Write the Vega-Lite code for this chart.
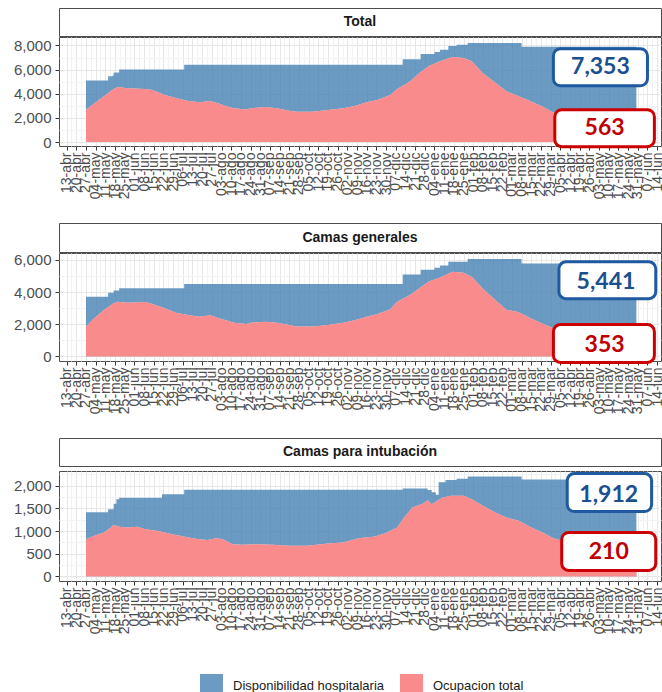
{
  "$schema": "https://vega.github.io/schema/vega-lite/v6.json",
  "padding": {"left": 12, "top": 7, "right": 2, "bottom": 0},
  "background": "white",
  "spacing": 22,
  "config": {
    "view": {"stroke": "#4d4d4d", "strokeWidth": 1},
    "axis": {"labelFont": "Liberation Sans", "labelColor": "#4d4d4d", "tickColor": "#333333", "tickSize": 4, "domain": false},
    "axisY": {"labelOverlap": false},
    "legend": {"orient": "none", "legendX": 141, "legendY": 666, "direction": "horizontal", "symbolType": "square", "symbolSize": 529, "symbolStrokeWidth": 0, "symbolOpacity": 0.8, "labelFont": "Liberation Sans", "labelFontSize": 13, "labelColor": "#1a1a1a", "labelOffset": 10, "columnPadding": 15, "title": null}
  },
  "datasets": {
    "cap": [
      {"p": "Total", "d": "2020-04-27", "v": 5100},
      {"p": "Total", "d": "2020-05-13", "v": 5450},
      {"p": "Total", "d": "2020-05-16", "v": 5500},
      {"p": "Total", "d": "2020-05-17", "v": 5750},
      {"p": "Total", "d": "2020-05-21", "v": 6000},
      {"p": "Total", "d": "2020-07-07", "v": 6400},
      {"p": "Total", "d": "2020-12-12", "v": 6850},
      {"p": "Total", "d": "2020-12-25", "v": 7300},
      {"p": "Total", "d": "2021-01-04", "v": 7450},
      {"p": "Total", "d": "2021-01-08", "v": 7650},
      {"p": "Total", "d": "2021-01-14", "v": 7950},
      {"p": "Total", "d": "2021-01-20", "v": 8050},
      {"p": "Total", "d": "2021-01-28", "v": 8200},
      {"p": "Total", "d": "2021-03-08", "v": 7900},
      {"p": "Total", "d": "2021-05-30", "v": 7900},
      {"p": "Camas generales", "d": "2020-04-27", "v": 3700},
      {"p": "Camas generales", "d": "2020-05-13", "v": 3950},
      {"p": "Camas generales", "d": "2020-05-17", "v": 4100},
      {"p": "Camas generales", "d": "2020-05-21", "v": 4230},
      {"p": "Camas generales", "d": "2020-07-07", "v": 4500},
      {"p": "Camas generales", "d": "2020-12-12", "v": 5080},
      {"p": "Camas generales", "d": "2020-12-25", "v": 5380},
      {"p": "Camas generales", "d": "2021-01-04", "v": 5500},
      {"p": "Camas generales", "d": "2021-01-08", "v": 5650},
      {"p": "Camas generales", "d": "2021-01-14", "v": 5870},
      {"p": "Camas generales", "d": "2021-01-28", "v": 6050},
      {"p": "Camas generales", "d": "2021-03-08", "v": 5770},
      {"p": "Camas generales", "d": "2021-05-30", "v": 5770},
      {"p": "Camas para intubación", "d": "2020-04-27", "v": 1410},
      {"p": "Camas para intubación", "d": "2020-05-13", "v": 1480},
      {"p": "Camas para intubación", "d": "2020-05-17", "v": 1600},
      {"p": "Camas para intubación", "d": "2020-05-19", "v": 1700},
      {"p": "Camas para intubación", "d": "2020-05-21", "v": 1730},
      {"p": "Camas para intubación", "d": "2020-06-21", "v": 1810},
      {"p": "Camas para intubación", "d": "2020-07-07", "v": 1905},
      {"p": "Camas para intubación", "d": "2020-12-12", "v": 1935},
      {"p": "Camas para intubación", "d": "2020-12-30", "v": 1900},
      {"p": "Camas para intubación", "d": "2021-01-02", "v": 1850},
      {"p": "Camas para intubación", "d": "2021-01-05", "v": 1800},
      {"p": "Camas para intubación", "d": "2021-01-07", "v": 2070},
      {"p": "Camas para intubación", "d": "2021-01-12", "v": 2120},
      {"p": "Camas para intubación", "d": "2021-01-20", "v": 2150},
      {"p": "Camas para intubación", "d": "2021-01-28", "v": 2200},
      {"p": "Camas para intubación", "d": "2021-03-08", "v": 2135},
      {"p": "Camas para intubación", "d": "2021-05-30", "v": 2135}
    ],
    "occ": [
      {"p": "Total", "d": "2020-04-27", "v": 2670},
      {"p": "Total", "d": "2020-05-03", "v": 3200},
      {"p": "Total", "d": "2020-05-10", "v": 3800},
      {"p": "Total", "d": "2020-05-17", "v": 4400},
      {"p": "Total", "d": "2020-05-20", "v": 4550},
      {"p": "Total", "d": "2020-05-27", "v": 4450},
      {"p": "Total", "d": "2020-06-09", "v": 4400},
      {"p": "Total", "d": "2020-06-14", "v": 4300},
      {"p": "Total", "d": "2020-06-23", "v": 3900},
      {"p": "Total", "d": "2020-07-01", "v": 3650},
      {"p": "Total", "d": "2020-07-10", "v": 3400},
      {"p": "Total", "d": "2020-07-18", "v": 3300},
      {"p": "Total", "d": "2020-07-26", "v": 3400},
      {"p": "Total", "d": "2020-08-01", "v": 3200},
      {"p": "Total", "d": "2020-08-07", "v": 2950},
      {"p": "Total", "d": "2020-08-12", "v": 2800},
      {"p": "Total", "d": "2020-08-21", "v": 2700},
      {"p": "Total", "d": "2020-08-24", "v": 2800},
      {"p": "Total", "d": "2020-09-04", "v": 2900},
      {"p": "Total", "d": "2020-09-12", "v": 2800},
      {"p": "Total", "d": "2020-09-21", "v": 2600},
      {"p": "Total", "d": "2020-09-26", "v": 2500},
      {"p": "Total", "d": "2020-10-08", "v": 2500},
      {"p": "Total", "d": "2020-10-19", "v": 2650},
      {"p": "Total", "d": "2020-10-30", "v": 2800},
      {"p": "Total", "d": "2020-11-08", "v": 3000},
      {"p": "Total", "d": "2020-11-16", "v": 3300},
      {"p": "Total", "d": "2020-11-24", "v": 3500},
      {"p": "Total", "d": "2020-12-03", "v": 3900},
      {"p": "Total", "d": "2020-12-08", "v": 4400},
      {"p": "Total", "d": "2020-12-17", "v": 5000},
      {"p": "Total", "d": "2020-12-25", "v": 5800},
      {"p": "Total", "d": "2020-12-31", "v": 6300},
      {"p": "Total", "d": "2021-01-08", "v": 6700},
      {"p": "Total", "d": "2021-01-17", "v": 7050},
      {"p": "Total", "d": "2021-01-25", "v": 6950},
      {"p": "Total", "d": "2021-01-31", "v": 6700},
      {"p": "Total", "d": "2021-02-08", "v": 5700},
      {"p": "Total", "d": "2021-02-17", "v": 4900},
      {"p": "Total", "d": "2021-02-25", "v": 4200},
      {"p": "Total", "d": "2021-03-06", "v": 3800},
      {"p": "Total", "d": "2021-03-14", "v": 3400},
      {"p": "Total", "d": "2021-03-23", "v": 2950},
      {"p": "Total", "d": "2021-03-31", "v": 2450},
      {"p": "Total", "d": "2021-04-09", "v": 2100},
      {"p": "Total", "d": "2021-04-17", "v": 1850},
      {"p": "Total", "d": "2021-04-25", "v": 1650},
      {"p": "Total", "d": "2021-05-04", "v": 1500},
      {"p": "Total", "d": "2021-05-12", "v": 1400},
      {"p": "Total", "d": "2021-05-21", "v": 1300},
      {"p": "Total", "d": "2021-05-30", "v": 1250},
      {"p": "Camas generales", "d": "2020-04-27", "v": 1860},
      {"p": "Camas generales", "d": "2020-05-03", "v": 2370},
      {"p": "Camas generales", "d": "2020-05-10", "v": 2890},
      {"p": "Camas generales", "d": "2020-05-17", "v": 3300},
      {"p": "Camas generales", "d": "2020-05-20", "v": 3400},
      {"p": "Camas generales", "d": "2020-05-27", "v": 3340},
      {"p": "Camas generales", "d": "2020-06-09", "v": 3380},
      {"p": "Camas generales", "d": "2020-06-14", "v": 3260},
      {"p": "Camas generales", "d": "2020-06-23", "v": 3000},
      {"p": "Camas generales", "d": "2020-07-01", "v": 2720},
      {"p": "Camas generales", "d": "2020-07-10", "v": 2580},
      {"p": "Camas generales", "d": "2020-07-18", "v": 2470},
      {"p": "Camas generales", "d": "2020-07-26", "v": 2560},
      {"p": "Camas generales", "d": "2020-08-01", "v": 2370},
      {"p": "Camas generales", "d": "2020-08-07", "v": 2230},
      {"p": "Camas generales", "d": "2020-08-12", "v": 2100},
      {"p": "Camas generales", "d": "2020-08-21", "v": 2020},
      {"p": "Camas generales", "d": "2020-08-24", "v": 2100},
      {"p": "Camas generales", "d": "2020-09-04", "v": 2160},
      {"p": "Camas generales", "d": "2020-09-12", "v": 2100},
      {"p": "Camas generales", "d": "2020-09-21", "v": 1960},
      {"p": "Camas generales", "d": "2020-09-26", "v": 1860},
      {"p": "Camas generales", "d": "2020-10-08", "v": 1860},
      {"p": "Camas generales", "d": "2020-10-19", "v": 1960},
      {"p": "Camas generales", "d": "2020-10-30", "v": 2100},
      {"p": "Camas generales", "d": "2020-11-08", "v": 2270},
      {"p": "Camas generales", "d": "2020-11-16", "v": 2470},
      {"p": "Camas generales", "d": "2020-11-24", "v": 2640},
      {"p": "Camas generales", "d": "2020-12-03", "v": 2930},
      {"p": "Camas generales", "d": "2020-12-08", "v": 3400},
      {"p": "Camas generales", "d": "2020-12-17", "v": 3800},
      {"p": "Camas generales", "d": "2020-12-25", "v": 4300},
      {"p": "Camas generales", "d": "2020-12-31", "v": 4650},
      {"p": "Camas generales", "d": "2021-01-08", "v": 4900},
      {"p": "Camas generales", "d": "2021-01-17", "v": 5260},
      {"p": "Camas generales", "d": "2021-01-25", "v": 5200},
      {"p": "Camas generales", "d": "2021-01-31", "v": 4950},
      {"p": "Camas generales", "d": "2021-02-08", "v": 4200},
      {"p": "Camas generales", "d": "2021-02-17", "v": 3500},
      {"p": "Camas generales", "d": "2021-02-25", "v": 2900},
      {"p": "Camas generales", "d": "2021-03-06", "v": 2750},
      {"p": "Camas generales", "d": "2021-03-14", "v": 2380},
      {"p": "Camas generales", "d": "2021-03-23", "v": 2050},
      {"p": "Camas generales", "d": "2021-03-31", "v": 1750},
      {"p": "Camas generales", "d": "2021-04-09", "v": 1500},
      {"p": "Camas generales", "d": "2021-04-17", "v": 1300},
      {"p": "Camas generales", "d": "2021-04-25", "v": 1150},
      {"p": "Camas generales", "d": "2021-05-04", "v": 1050},
      {"p": "Camas generales", "d": "2021-05-12", "v": 980},
      {"p": "Camas generales", "d": "2021-05-21", "v": 920},
      {"p": "Camas generales", "d": "2021-05-30", "v": 880},
      {"p": "Camas para intubación", "d": "2020-04-27", "v": 820},
      {"p": "Camas para intubación", "d": "2020-05-03", "v": 894},
      {"p": "Camas para intubación", "d": "2020-05-10", "v": 967},
      {"p": "Camas para intubación", "d": "2020-05-15", "v": 1077},
      {"p": "Camas para intubación", "d": "2020-05-17", "v": 1135},
      {"p": "Camas para intubación", "d": "2020-05-21", "v": 1091},
      {"p": "Camas para intubación", "d": "2020-05-27", "v": 1077},
      {"p": "Camas para intubación", "d": "2020-06-03", "v": 1091},
      {"p": "Camas para intubación", "d": "2020-06-09", "v": 1040},
      {"p": "Camas para intubación", "d": "2020-06-17", "v": 1004},
      {"p": "Camas para intubación", "d": "2020-06-23", "v": 967},
      {"p": "Camas para intubación", "d": "2020-06-28", "v": 930},
      {"p": "Camas para intubación", "d": "2020-07-04", "v": 894},
      {"p": "Camas para intubación", "d": "2020-07-10", "v": 857},
      {"p": "Camas para intubación", "d": "2020-07-18", "v": 820},
      {"p": "Camas para intubación", "d": "2020-07-24", "v": 800},
      {"p": "Camas para intubación", "d": "2020-07-30", "v": 842},
      {"p": "Camas para intubación", "d": "2020-08-04", "v": 820},
      {"p": "Camas para intubación", "d": "2020-08-11", "v": 711},
      {"p": "Camas para intubación", "d": "2020-08-18", "v": 696},
      {"p": "Camas para intubación", "d": "2020-08-29", "v": 711},
      {"p": "Camas para intubación", "d": "2020-09-09", "v": 696},
      {"p": "Camas para intubación", "d": "2020-09-21", "v": 674},
      {"p": "Camas para intubación", "d": "2020-10-04", "v": 674},
      {"p": "Camas para intubación", "d": "2020-10-19", "v": 725},
      {"p": "Camas para intubación", "d": "2020-10-30", "v": 747},
      {"p": "Camas para intubación", "d": "2020-11-10", "v": 842},
      {"p": "Camas para intubación", "d": "2020-11-21", "v": 872},
      {"p": "Camas para intubación", "d": "2020-11-29", "v": 945},
      {"p": "Camas para intubación", "d": "2020-12-08", "v": 1077},
      {"p": "Camas para intubación", "d": "2020-12-13", "v": 1297},
      {"p": "Camas para intubación", "d": "2020-12-19", "v": 1516},
      {"p": "Camas para intubación", "d": "2020-12-27", "v": 1604},
      {"p": "Camas para intubación", "d": "2020-12-30", "v": 1677},
      {"p": "Camas para intubación", "d": "2021-01-02", "v": 1590},
      {"p": "Camas para intubación", "d": "2021-01-06", "v": 1663},
      {"p": "Camas para intubación", "d": "2021-01-10", "v": 1736},
      {"p": "Camas para intubación", "d": "2021-01-16", "v": 1773},
      {"p": "Camas para intubación", "d": "2021-01-25", "v": 1773},
      {"p": "Camas para intubación", "d": "2021-01-31", "v": 1700},
      {"p": "Camas para intubación", "d": "2021-02-08", "v": 1553},
      {"p": "Camas para intubación", "d": "2021-02-17", "v": 1407},
      {"p": "Camas para intubación", "d": "2021-02-25", "v": 1297},
      {"p": "Camas para intubación", "d": "2021-03-06", "v": 1223},
      {"p": "Camas para intubación", "d": "2021-03-14", "v": 1091},
      {"p": "Camas para intubación", "d": "2021-03-23", "v": 967},
      {"p": "Camas para intubación", "d": "2021-03-31", "v": 842},
      {"p": "Camas para intubación", "d": "2021-04-06", "v": 784},
      {"p": "Camas para intubación", "d": "2021-04-15", "v": 680},
      {"p": "Camas para intubación", "d": "2021-04-25", "v": 580},
      {"p": "Camas para intubación", "d": "2021-05-04", "v": 500},
      {"p": "Camas para intubación", "d": "2021-05-12", "v": 450},
      {"p": "Camas para intubación", "d": "2021-05-21", "v": 410},
      {"p": "Camas para intubación", "d": "2021-05-30", "v": 380}
    ],
    "boxes": [
      {"p": "Total", "s": "cap", "label": "7,353", "d1": "2021-03-31", "d2": "2021-06-07", "v1": 4662, "v2": 7727, "dt": "2021-05-04", "vt": 6194},
      {"p": "Total", "s": "occ", "label": "563", "d1": "2021-04-01", "d2": "2021-06-12", "v1": -389, "v2": 2675, "dt": "2021-05-07", "vt": 1143},
      {"p": "Camas generales", "s": "cap", "label": "5,441", "d1": "2021-04-04", "d2": "2021-06-13", "v1": 3588, "v2": 5876, "dt": "2021-05-08", "vt": 4639},
      {"p": "Camas generales", "s": "occ", "label": "353", "d1": "2021-03-31", "d2": "2021-06-12", "v1": -371, "v2": 1979, "dt": "2021-05-07", "vt": 742},
      {"p": "Camas para intubación", "s": "cap", "label": "1,912", "d1": "2021-04-10", "d2": "2021-06-10", "v1": 1429, "v2": 2264, "dt": "2021-05-10", "vt": 1802},
      {"p": "Camas para intubación", "s": "occ", "label": "210", "d1": "2021-04-06", "d2": "2021-06-13", "v1": 132, "v2": 967, "dt": "2021-05-10", "vt": 549}
    ]
  },
  "vconcat": [
    {
      "spacing": -1,
      "vconcat": [
        {"width": 602, "height": 28, "view": {"stroke": "#4d4d4d", "fill": "white"}, "data": {"values": [{"t": "Total"}]}, "mark": {"type": "text", "font": "Liberation Sans", "fontSize": 14, "fontWeight": "bold", "color": "#1a1a1a"}, "encoding": {"text": {"field": "t"}}},
        {
          "width": 602, "height": 109,
          "encoding": {
            "x": {"field": "d", "type": "temporal", "scale": {"type": "utc", "domain": [{"year": 2020, "month": 4, "date": 7, "hours": 12, "utc": true}, {"year": 2021, "month": 6, "date": 16, "hours": 19, "utc": true}]}, "axis": {"title": null, "values": {"expr": "sequence(1586736000000, 1623628800001, 302400000)"}, "labelExpr": "(+datum.value - 1586736000000) % 604800000 == 0 ? utcFormat(datum.value, '%d') + '-' + ['ene','feb','mar','abr','may','jun','jul','ago','sep','oct','nov','dic'][utcmonth(datum.value)] : ''", "labelAngle": -90, "labelOverlap": false, "labelFlush": false, "labelBound": false, "labelFontSize": 14, "labelPadding": 2, "tickOpacity": {"condition": {"test": "(+datum.value - 1586736000000) % 604800000 != 0", "value": 0}, "value": 1}, "gridColor": {"condition": {"test": "(+datum.value - 1586736000000) % 604800000 != 0", "value": "#f3f3f3"}, "value": "#e6e6e6"}}},
            "y": {"field": "v", "type": "quantitative", "scale": {"domain": [-330, 8700], "nice": false, "zero": false}, "axis": {"title": null, "values": [0, 1000, 2000, 3000, 4000, 5000, 6000, 7000, 8000], "labelExpr": "datum.value % 2000 == 0 ? format(datum.value, ',') : ''", "labelOverlap": false, "labelFontSize": 15, "labelPadding": 4, "tickOpacity": {"condition": {"test": "datum.value % 2000 != 0", "value": 0}, "value": 1}, "gridColor": {"condition": {"test": "datum.value % 2000 != 0", "value": "#f3f3f3"}, "value": "#e6e6e6"}}}
          },
          "layer": [
            {"data": {"name": "cap"}, "transform": [{"filter": "datum.p == 'Total'"}], "mark": {"type": "area", "interpolate": "step-after", "opacity": 0.8}, "encoding": {"color": {"datum": "Disponibilidad hospitalaria", "type": "nominal", "scale": {"domain": ["Disponibilidad hospitalaria", "Ocupacion total"], "range": ["#4682b4", "#f86e6f"]}}}},
            {"data": {"name": "occ"}, "transform": [{"filter": "datum.p == 'Total'"}], "mark": {"type": "area", "color": "white"}},
            {"data": {"name": "occ"}, "transform": [{"filter": "datum.p == 'Total'"}], "mark": {"type": "area", "opacity": 0.8}, "encoding": {"color": {"datum": "Ocupacion total", "type": "nominal"}}},
            {"data": {"name": "boxes"}, "transform": [{"filter": "datum.p == 'Total'"}], "mark": {"type": "rect", "cornerRadius": 7, "fill": "white", "strokeWidth": 3}, "encoding": {"x": {"field": "d1", "type": "temporal"}, "x2": {"field": "d2"}, "y": {"field": "v1", "type": "quantitative"}, "y2": {"field": "v2"}, "stroke": {"condition": {"test": "datum.s == 'cap'", "value": "#1f5aa0"}, "value": "#cc0000"}}},
            {"data": {"name": "boxes"}, "transform": [{"filter": "datum.p == 'Total'"}], "mark": {"type": "text", "font": "Lato", "fontWeight": "bold", "fontSize": 23}, "encoding": {"x": {"field": "dt", "type": "temporal"}, "y": {"field": "vt", "type": "quantitative"}, "text": {"field": "label"}, "color": {"condition": {"test": "datum.s == 'cap'", "value": "#1b4f8f"}, "value": "#c00000"}}}
          ]
        }
      ]
    },
    {
      "spacing": -1,
      "vconcat": [
        {"width": 602, "height": 29, "view": {"stroke": "#4d4d4d", "fill": "white"}, "data": {"values": [{"t": "Camas generales"}]}, "mark": {"type": "text", "font": "Liberation Sans", "fontSize": 14, "fontWeight": "bold", "color": "#1a1a1a"}, "encoding": {"text": {"field": "t"}}},
        {
          "width": 602, "height": 108,
          "encoding": {
            "x": {"field": "d", "type": "temporal", "scale": {"type": "utc", "domain": [{"year": 2020, "month": 4, "date": 7, "hours": 12, "utc": true}, {"year": 2021, "month": 6, "date": 16, "hours": 19, "utc": true}]}, "axis": {"title": null, "values": {"expr": "sequence(1586736000000, 1623628800001, 302400000)"}, "labelExpr": "(+datum.value - 1586736000000) % 604800000 == 0 ? utcFormat(datum.value, '%d') + '-' + ['ene','feb','mar','abr','may','jun','jul','ago','sep','oct','nov','dic'][utcmonth(datum.value)] : ''", "labelAngle": -90, "labelOverlap": false, "labelFlush": false, "labelBound": false, "labelFontSize": 14, "labelPadding": 2, "tickOpacity": {"condition": {"test": "(+datum.value - 1586736000000) % 604800000 != 0", "value": 0}, "value": 1}, "gridColor": {"condition": {"test": "(+datum.value - 1586736000000) % 604800000 != 0", "value": "#f3f3f3"}, "value": "#e6e6e6"}}},
            "y": {"field": "v", "type": "quantitative", "scale": {"domain": [-280, 6420], "nice": false, "zero": false}, "axis": {"title": null, "values": [0, 1000, 2000, 3000, 4000, 5000, 6000], "labelExpr": "datum.value % 2000 == 0 ? format(datum.value, ',') : ''", "labelOverlap": false, "labelFontSize": 15, "labelPadding": 4, "tickOpacity": {"condition": {"test": "datum.value % 2000 != 0", "value": 0}, "value": 1}, "gridColor": {"condition": {"test": "datum.value % 2000 != 0", "value": "#f3f3f3"}, "value": "#e6e6e6"}}}
          },
          "layer": [
            {"data": {"name": "cap"}, "transform": [{"filter": "datum.p == 'Camas generales'"}], "mark": {"type": "area", "interpolate": "step-after", "opacity": 0.8}, "encoding": {"color": {"datum": "Disponibilidad hospitalaria", "type": "nominal"}}},
            {"data": {"name": "occ"}, "transform": [{"filter": "datum.p == 'Camas generales'"}], "mark": {"type": "area", "color": "white"}},
            {"data": {"name": "occ"}, "transform": [{"filter": "datum.p == 'Camas generales'"}], "mark": {"type": "area", "opacity": 0.8}, "encoding": {"color": {"datum": "Ocupacion total", "type": "nominal"}}},
            {"data": {"name": "boxes"}, "transform": [{"filter": "datum.p == 'Camas generales'"}], "mark": {"type": "rect", "cornerRadius": 7, "fill": "white", "strokeWidth": 3}, "encoding": {"x": {"field": "d1", "type": "temporal"}, "x2": {"field": "d2"}, "y": {"field": "v1", "type": "quantitative"}, "y2": {"field": "v2"}, "stroke": {"condition": {"test": "datum.s == 'cap'", "value": "#1f5aa0"}, "value": "#cc0000"}}},
            {"data": {"name": "boxes"}, "transform": [{"filter": "datum.p == 'Camas generales'"}], "mark": {"type": "text", "font": "Lato", "fontWeight": "bold", "fontSize": 23}, "encoding": {"x": {"field": "dt", "type": "temporal"}, "y": {"field": "vt", "type": "quantitative"}, "text": {"field": "label"}, "color": {"condition": {"test": "datum.s == 'cap'", "value": "#1b4f8f"}, "value": "#c00000"}}}
          ]
        }
      ]
    },
    {
      "spacing": -1,
      "vconcat": [
        {"width": 602, "height": 28, "view": {"stroke": "#4d4d4d", "fill": "white"}, "data": {"values": [{"t": "Camas para intubación"}]}, "mark": {"type": "text", "font": "Liberation Sans", "fontSize": 14, "fontWeight": "bold", "color": "#1a1a1a"}, "encoding": {"text": {"field": "t"}}},
        {
          "width": 602, "height": 110,
          "encoding": {
            "x": {"field": "d", "type": "temporal", "scale": {"type": "utc", "domain": [{"year": 2020, "month": 4, "date": 7, "hours": 12, "utc": true}, {"year": 2021, "month": 6, "date": 16, "hours": 19, "utc": true}]}, "axis": {"title": null, "values": {"expr": "sequence(1586736000000, 1623628800001, 302400000)"}, "labelExpr": "(+datum.value - 1586736000000) % 604800000 == 0 ? utcFormat(datum.value, '%d') + '-' + ['ene','feb','mar','abr','may','jun','jul','ago','sep','oct','nov','dic'][utcmonth(datum.value)] : ''", "labelAngle": -90, "labelOverlap": false, "labelFlush": false, "labelBound": false, "labelFontSize": 14, "labelPadding": 2, "tickOpacity": {"condition": {"test": "(+datum.value - 1586736000000) % 604800000 != 0", "value": 0}, "value": 1}, "gridColor": {"condition": {"test": "(+datum.value - 1586736000000) % 604800000 != 0", "value": "#f3f3f3"}, "value": "#e6e6e6"}}},
            "y": {"field": "v", "type": "quantitative", "scale": {"domain": [-100, 2320], "nice": false, "zero": false}, "axis": {"title": null, "values": [0, 250, 500, 750, 1000, 1250, 1500, 1750, 2000, 2250], "labelExpr": "datum.value % 500 == 0 ? format(datum.value, ',') : ''", "labelOverlap": false, "labelFontSize": 15, "labelPadding": 4, "tickOpacity": {"condition": {"test": "datum.value % 500 != 0", "value": 0}, "value": 1}, "gridColor": {"condition": {"test": "datum.value % 500 != 0", "value": "#f3f3f3"}, "value": "#e6e6e6"}}}
          },
          "layer": [
            {"data": {"name": "cap"}, "transform": [{"filter": "datum.p == 'Camas para intubación'"}], "mark": {"type": "area", "interpolate": "step-after", "opacity": 0.8}, "encoding": {"color": {"datum": "Disponibilidad hospitalaria", "type": "nominal"}}},
            {"data": {"name": "occ"}, "transform": [{"filter": "datum.p == 'Camas para intubación'"}], "mark": {"type": "area", "color": "white"}},
            {"data": {"name": "occ"}, "transform": [{"filter": "datum.p == 'Camas para intubación'"}], "mark": {"type": "area", "opacity": 0.8}, "encoding": {"color": {"datum": "Ocupacion total", "type": "nominal"}}},
            {"data": {"name": "boxes"}, "transform": [{"filter": "datum.p == 'Camas para intubación'"}], "mark": {"type": "rect", "cornerRadius": 7, "fill": "white", "strokeWidth": 3}, "encoding": {"x": {"field": "d1", "type": "temporal"}, "x2": {"field": "d2"}, "y": {"field": "v1", "type": "quantitative"}, "y2": {"field": "v2"}, "stroke": {"condition": {"test": "datum.s == 'cap'", "value": "#1f5aa0"}, "value": "#cc0000"}}},
            {"data": {"name": "boxes"}, "transform": [{"filter": "datum.p == 'Camas para intubación'"}], "mark": {"type": "text", "font": "Lato", "fontWeight": "bold", "fontSize": 23}, "encoding": {"x": {"field": "dt", "type": "temporal"}, "y": {"field": "vt", "type": "quantitative"}, "text": {"field": "label"}, "color": {"condition": {"test": "datum.s == 'cap'", "value": "#1b4f8f"}, "value": "#c00000"}}}
          ]
        }
      ]
    }
  ]
}
